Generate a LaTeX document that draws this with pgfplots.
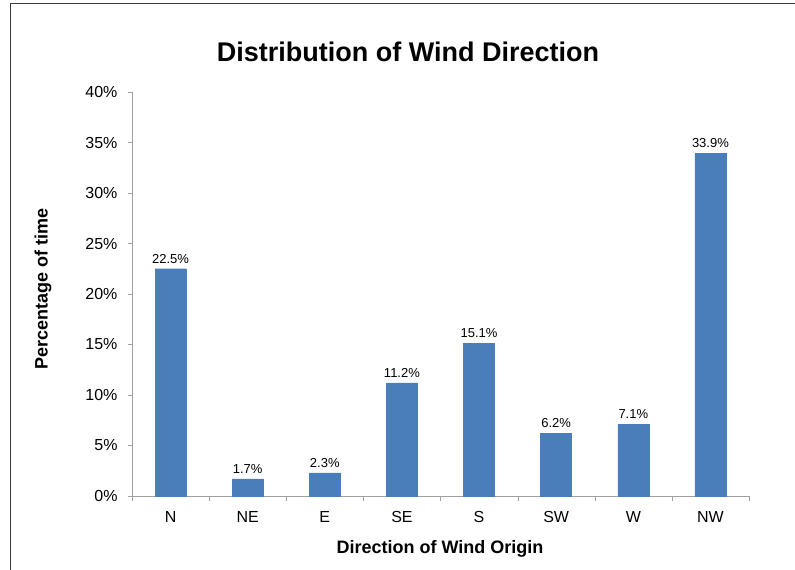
\documentclass[border=0pt]{standalone}
\usepackage{fontspec}
\setmainfont{Liberation Sans}
\usepackage{pgfplots}
\pgfplotsset{compat=1.18}
\definecolor{barblue}{RGB}{74,126,187}
\definecolor{axgray}{RGB}{160,160,160}
\definecolor{framegray}{RGB}{60,60,60}

\begin{document}
\begin{tikzpicture}
\useasboundingbox (0,0) rectangle (795bp,570bp);
% partial outer frame as in the screenshot
\draw[framegray, line width=1bp] (10bp,0) -- (10bp,566bp) -- (795bp,566bp);

\begin{axis}[
    at={(132bp,74bp)}, anchor=south west,
    scale only axis, width=617bp, height=404bp,
    ybar, bar width=31bp,
    xmin=-0.5, xmax=7.5,
    ymin=0, ymax=40,
    axis x line=bottom, axis y line=left,
    axis line style={-, axgray},
    xtick={0,...,7},
    xticklabels={N,NE,E,SE,S,SW,W,NW},
    minor xtick={-0.5,0.5,...,7.5},
    major x tick style={draw=none},
    minor x tick style={axgray},
    ytick={0,5,...,40},
    ytick style={axgray},
    yticklabel={\pgfmathprintnumber{\tick}\%},
    tick align=outside,
    major tick length=4bp, minor tick length=5bp,
    /pgf/number format/assume math mode=true,
    ticklabel style={font=\fontsize{16bp}{19bp}\selectfont},
    xticklabel style={yshift=-8bp},
    yticklabel style={xshift=-7bp},
    nodes near coords={\pgfmathprintnumber[fixed,fixed zerofill,precision=1]{\pgfplotspointmeta}\%},
    every node near coord/.append style={font=\fontsize{13bp}{15bp}\selectfont, yshift=2bp},
    clip=false,
]
\addplot[fill=barblue, draw=barblue] coordinates {
    (0,22.5) (1,1.7) (2,2.3) (3,11.2) (4,15.1) (5,6.2) (6,7.1) (7,33.9)
};
\end{axis}

\node[font=\bfseries\fontsize{27bp}{31bp}\selectfont] at (408bp,518bp) {Distribution of Wind Direction};
\node[font=\bfseries\fontsize{18bp}{21bp}\selectfont] at (440bp,21bp) {Direction of Wind Origin};
\node[font=\bfseries\fontsize{18bp}{21bp}\selectfont, rotate=90] at (43bp,281bp) {Percentage of time};
\end{tikzpicture}
\end{document}
